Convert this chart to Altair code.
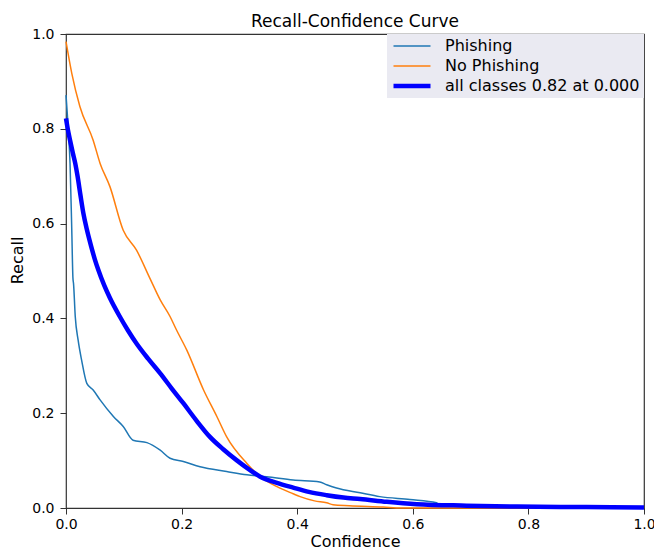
import altair as alt
import pandas as pd

# ---- data ----
series_names = ["Phishing", "No Phishing", "all classes 0.82 at 0.000"]
series_colors = ["#1f77b4", "#ff7f0e", "#0000ff"]
series_widths = [1.5, 1.5, 4.5]

phish_x = [0.0, 0.004, 0.007, 0.010, 0.012, 0.013, 0.016, 0.021, 0.027, 0.036, 0.047,
           0.059, 0.082, 0.099, 0.116, 0.140, 0.163, 0.180, 0.203, 0.232, 0.278, 0.313,
           0.347, 0.393, 0.439, 0.451, 0.468, 0.509, 0.543, 0.595, 0.641, 0.647, 0.80, 1.0]
phish_y = [0.871, 0.797, 0.727, 0.586, 0.485, 0.474, 0.404, 0.354, 0.312, 0.263, 0.249,
           0.228, 0.193, 0.172, 0.143, 0.138, 0.122, 0.105, 0.098, 0.087, 0.077, 0.070,
           0.066, 0.059, 0.055, 0.049, 0.042, 0.032, 0.024, 0.018, 0.011, 0.006, 0.003, 0.0]

nophish_x = [0.0, 0.010, 0.024, 0.047, 0.059, 0.076, 0.099, 0.122, 0.145, 0.163, 0.180,
             0.191, 0.209, 0.238, 0.261, 0.278, 0.313, 0.336, 0.365, 0.393, 0.405, 0.430,
             0.451, 0.462, 0.490, 0.549, 0.580, 1.0]
nophish_y = [0.984, 0.917, 0.847, 0.776, 0.727, 0.678, 0.586, 0.544, 0.485, 0.439, 0.404,
             0.376, 0.333, 0.249, 0.193, 0.150, 0.094, 0.066, 0.045, 0.030, 0.024, 0.015,
             0.011, 0.007, 0.005, 0.002, 0.0, 0.0]

all_x = [0.0, 0.003, 0.007, 0.012, 0.016, 0.020, 0.025, 0.030, 0.036, 0.044, 0.050,
         0.056, 0.066, 0.076, 0.093, 0.107, 0.122, 0.142, 0.163, 0.183, 0.203, 0.226,
         0.249, 0.272, 0.295, 0.316, 0.336, 0.365, 0.393, 0.420, 0.451, 0.480, 0.509,
         0.555, 0.607, 0.693, 0.780, 0.900, 1.0]
all_y = [0.822, 0.800, 0.776, 0.748, 0.727, 0.700, 0.660, 0.622, 0.588, 0.550, 0.524,
         0.502, 0.470, 0.443, 0.404, 0.375, 0.347, 0.315, 0.284, 0.252, 0.221, 0.184,
         0.150, 0.124, 0.101, 0.082, 0.066, 0.053, 0.043, 0.034, 0.027, 0.022, 0.019,
         0.013, 0.008, 0.005, 0.003, 0.002, 0.001]

x_ticks = [0.0, 0.2, 0.4, 0.6, 0.8, 1.0]
y_ticks = [0.0, 0.2, 0.4, 0.6, 0.8, 1.0]

rows = []
for name, xs, ys in zip(series_names, [phish_x, nophish_x, all_x], [phish_y, nophish_y, all_y]):
    for x, y in zip(xs, ys):
        rows.append({"series": name, "confidence": x, "recall": y})
df = pd.DataFrame(rows)

FONT = "DejaVu Sans"

legend_props = dict(
    title=None, orient="none", legendX=321, legendY=0,
    fillColor="#EAEAF2", padding=4, symbolType="stroke", symbolSize=1369,
    clipHeight=16, rowPadding=4, labelFontSize=16, labelFont=FONT,
    labelColor="black", labelOffset=12, labelLimit=400,
)

x_enc = alt.X("confidence:Q",
              scale=alt.Scale(domain=[0, 1], nice=False, zero=False),
              axis=alt.Axis(values=x_ticks, format=".1f", title="Confidence",
                            grid=False, domain=False, tickSize=6, tickColor="#333333",
                            labelFontSize=14, labelFont=FONT, labelColor="black",
                            labelPadding=3, labelFlush=False, labelOverlap=False,
                            titleFontSize=16, titleFont=FONT, titleFontWeight="normal",
                            titleColor="black", titleY=38, titleBaseline="alphabetic"))
y_enc = alt.Y("recall:Q",
              scale=alt.Scale(domain=[0, 1], nice=False, zero=False),
              axis=alt.Axis(values=y_ticks, format=".1f", title="Recall",
                            grid=False, domain=False, tickSize=6, tickColor="#333333",
                            labelFontSize=14, labelFont=FONT, labelColor="black",
                            labelPadding=6, labelFlush=False, labelOverlap=False,
                            titleFontSize=16, titleFont=FONT, titleFontWeight="normal",
                            titleColor="black", titleX=-44, titleY=226,
                            titleBaseline="alphabetic"))
color_enc = alt.Color("series:N",
                      scale=alt.Scale(domain=series_names, range=series_colors),
                      legend=alt.Legend(**legend_props))
width_enc = alt.StrokeWidth("series:N",
                            scale=alt.Scale(type="ordinal", domain=series_names, range=series_widths),
                            legend=alt.Legend(**legend_props))

layers = []
for name in series_names:
    layers.append(
        alt.Chart(df).transform_filter(alt.datum.series == name)
        .mark_line(strokeJoin="round", interpolate="monotone")
        .encode(x=x_enc, y=y_enc, color=color_enc, strokeWidth=width_enc,
                order=alt.Order("confidence:Q"))
    )

chart = alt.layer(*layers).properties(
    width=578, height=474,
    title=alt.TitleParams("Recall-Confidence Curve", fontSize=17, fontWeight="normal",
                          font=FONT, color="black", anchor="middle", frame="group",
                          offset=8, dy=25, baseline="alphabetic"),
    padding={"left": 66, "top": 34, "right": 10, "bottom": 41},
    autosize=alt.AutoSizeParams(type="none"),
).configure_view(stroke="#333333", strokeWidth=1.2)

chart.save("out.html", embed_options={"renderer": "svg", "actions": False})
